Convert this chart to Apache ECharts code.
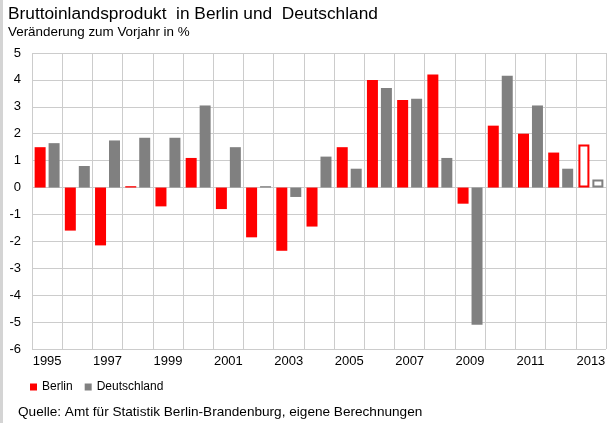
<!DOCTYPE html>
<html>
<head>
<meta charset="utf-8">
<script src="https://cdn.jsdelivr.net/npm/echarts@6/dist/echarts.min.js"></script>
<style>
  html, body { margin: 0; padding: 0; background: #fff; }
  #chart { width: 610px; height: 423px; }
</style>
</head>
<body>
<div id="chart"></div>
<script>
// Jahre und Veränderungsraten (in %)
const years = ['1995', '1996', '1997', '1998', '1999', '2000', '2001', '2002', '2003', '2004',
               '2005', '2006', '2007', '2008', '2009', '2010', '2011', '2012', '2013'];
const berlin = [1.5, -1.6, -2.15, 0.05, -0.7, 1.1, -0.8, -1.85, -2.35, -1.45,
                1.5, 4.0, 3.25, 4.2, -0.6, 2.3, 2.0, 1.3, 1.6];
const deutschland = [1.65, 0.8, 1.75, 1.85, 1.85, 3.05, 1.5, 0.05, -0.35, 1.15,
                     0.7, 3.7, 3.3, 1.1, -5.1, 4.15, 3.05, 0.7, 0.3];
const yTicks = [-6, -5, -4, -3, -2, -1, 0, 1, 2, 3, 4, 5];

const RED = '#ff0000';
const GREY = '#808080';
const FONT = 'Liberation Sans';

// letztes Jahr = Prognose, hohl gezeichnet
function toItems(values, color) {
    return values.map((v, i) => {
        if (i === values.length - 1) {
            return { value: v, itemStyle: { color: '#fff', borderColor: color, borderWidth: 2 } };
        }
        return v;
    });
}

const chart = echarts.init(document.getElementById('chart'));

const option = {
    animation: false,
    textStyle: { fontFamily: FONT },
    title: [
        {
            text: 'Bruttoinlandsprodukt  in Berlin und  Deutschland',
            subtext: 'Veränderung zum Vorjahr in %',
            left: 3,
            top: 1,
            itemGap: 3,
            textStyle: { fontFamily: FONT, fontSize: 17.3, fontWeight: 'normal', color: '#000' },
            subtextStyle: { fontFamily: FONT, fontSize: 13.4, color: '#000' }
        },
        {
            text: 'Quelle: Amt für Statistik Berlin-Brandenburg, eigene Berechnungen',
            left: 13,
            top: 400,
            textStyle: { fontFamily: FONT, fontSize: 13.6, fontWeight: 'normal', color: '#000' }
        }
    ],
    legend: {
        left: 25,
        top: 376,
        itemWidth: 7,
        itemHeight: 7,
        itemGap: 12,
        icon: 'rect',
        textStyle: { fontFamily: FONT, fontSize: 12, color: '#000' },
        data: ['Berlin', 'Deutschland']
    },
    grid: { left: 32, right: 4, top: 53, bottom: 74 },
    xAxis: {
        type: 'category',
        data: years,
        axisLine: { show: false },
        axisTick: { show: false },
        axisLabel: { interval: 1, margin: 6, fontSize: 13, color: '#000', fontFamily: FONT },
        splitLine: { show: true, interval: 0, lineStyle: { color: '#cccccc', width: 1 } }
    },
    yAxis: {
        type: 'value',
        min: yTicks[0],
        max: yTicks[yTicks.length - 1],
        interval: 1,
        axisLine: { show: false },
        axisTick: { show: false },
        axisLabel: { margin: 11, fontSize: 13, color: '#000', fontFamily: FONT },
        splitLine: { lineStyle: { color: '#cccccc', width: 1 } }
    },
    series: [
        {
            name: 'Berlin',
            type: 'bar',
            color: RED,
            barWidth: 11,
            barGap: '27%',
            data: toItems(berlin, RED)
        },
        {
            name: 'Deutschland',
            type: 'bar',
            color: GREY,
            barWidth: 11,
            data: toItems(deutschland, GREY)
        }
    ],
    graphic: [
        { type: 'rect', left: 0, top: 0, shape: { x: 0, y: 0, width: 3, height: 423 }, style: { fill: '#d4d4d4' } }
    ]
};

chart.setOption(option);
</script>
</body>
</html>
